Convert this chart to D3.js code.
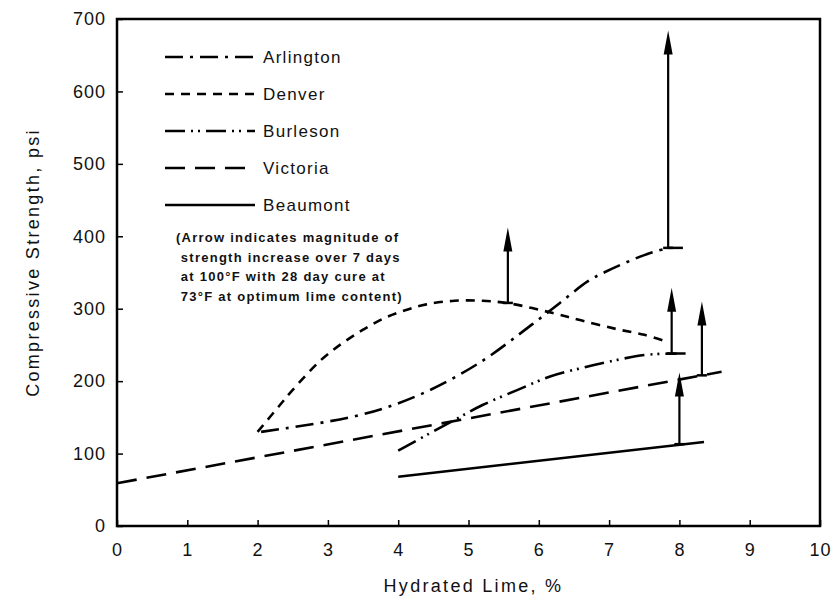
<!DOCTYPE html>
<html>
<head>
<meta charset="utf-8">
<title>Compressive strength vs hydrated lime</title>
<script src="https://d3js.org/d3.v7.min.js"></script>
<style>
  body { margin: 0; background: #fff; }
  svg { display: block; font-family: "Liberation Sans", Arial, sans-serif; }
  .tick-lbl { font-size: 18px; letter-spacing: 1px; fill: #111; }
  .title { font-size: 18px; letter-spacing: 2.3px; fill: #111; }
  .leg { font-size: 17px; letter-spacing: 1.3px; fill: #111; }
  .note { font-size: 13px; font-weight: bold; letter-spacing: 1.25px; fill: #111; }
</style>
</head>
<body>
<div id="chart"></div>
<script>
// ---- data ----
var xTicks = [0, 1, 2, 3, 4, 5, 6, 7, 8, 9, 10];
var yTicks = [0, 100, 200, 300, 400, 500, 600, 700];

var seriesNames = ["Arlington", "Denver", "Burleson", "Victoria", "Beaumont"];
var seriesDash = ["18,7,3,7", "9,7", "20,6,2,5,2,6", "20,10", null];

var arlington = [[2.05,130],[3.45,153],[4.3,181],[5.15,225],[5.9,278],[6.3,308],[6.7,338],[6.95,351],[7.5,374],[7.84,384]];
var denver = [[2,130],[2.3,165],[2.5,188],[2.9,229],[3.2,252],[3.5,271],[3.8,287],[4.1,298],[4.4,306],[4.8,311],[5.2,311],[5.6,307],[6.2,294],[6.6,284],[7.1,272],[7.5,264],[7.8,255]];
var burleson = [[4,104],[4.45,128],[4.85,149],[5.2,167],[5.7,188],[6.15,206],[6.6,218],[7,227],[7.5,236],[7.85,238],[8.15,238]];
var victoria = [[0,59],[8.6,213]];
var beaumont = [[4,68],[8.35,116]];
var seriesData = [arlington, denver, burleson, victoria, beaumont];

// arrows: [lime %, base strength, tip strength]
var arrows = [[5.56,308,412],[7.84,384,684],[7.89,238,329],[8.32,208,310],[8.0,113,212]];

var noteLines = ["(Arrow indicates magnitude of",
                 " strength increase over 7 days",
                 " at 100\u00B0F with 28 day cure at",
                 " 73\u00B0F at optimum lime content)"];

// ---- layout ----
var W = 833, H = 600;
var mLeft = 117, mRight = 820, mTop = 19, mBottom = 526;

var x = d3.scaleLinear().domain([0, 10]).range([mLeft, mRight]);
var y = d3.scaleLinear().domain([0, 700]).range([mBottom, mTop]);

var svg = d3.select("#chart").append("svg").attr("width", W).attr("height", H);

// frame
svg.append("rect")
  .attr("x", mLeft).attr("y", mTop)
  .attr("width", mRight - mLeft).attr("height", mBottom - mTop)
  .attr("fill", "none").attr("stroke", "#000").attr("stroke-width", 2.5);

// axes with inward ticks
var xAxis = svg.append("g").attr("transform", "translate(0," + mBottom + ")")
  .call(d3.axisBottom(x).tickValues(xTicks).tickSizeInner(-6).tickSizeOuter(0).tickPadding(14));
var yAxis = svg.append("g").attr("transform", "translate(" + mLeft + ",0)")
  .call(d3.axisLeft(y).tickValues(yTicks).tickSizeInner(-6).tickSizeOuter(0).tickPadding(11));
[xAxis, yAxis].forEach(function (g) {
  g.select(".domain").remove();
  g.selectAll(".tick line").attr("stroke", "#000").attr("stroke-width", 1.5);
  g.selectAll(".tick text").attr("class", "tick-lbl").attr("font-size", null).attr("font-family", null);
});
xAxis.selectAll(".tick text").attr("dy", "0.9em");

// axis titles
svg.append("text").attr("class", "title")
  .attr("x", (mLeft + mRight) / 2 + 5).attr("y", 592)
  .attr("text-anchor", "middle").text("Hydrated Lime, %");
svg.append("text").attr("class", "title")
  .attr("transform", "translate(39," + ((mTop + mBottom) / 2 - 10) + ") rotate(-90)")
  .attr("text-anchor", "middle").text("Compressive Strength, psi");

// curves
var line = d3.line().x(function (d) { return x(d[0]); }).y(function (d) { return y(d[1]); })
  .curve(d3.curveCatmullRom.alpha(0.5));

seriesData.forEach(function (s, i) {
  svg.append("path")
    .attr("d", line(s))
    .attr("fill", "none").attr("stroke", "#000").attr("stroke-width", 2.6)
    .attr("stroke-dasharray", seriesDash[i]);
});

// arrows
arrows.forEach(function (a) {
  var xp = x(a[0]), yb = y(a[1]), yt = y(a[2]);
  svg.append("line").attr("x1", xp - 5).attr("x2", xp + 5).attr("y1", yb).attr("y2", yb)
    .attr("stroke", "#000").attr("stroke-width", 2.5);
  svg.append("line").attr("x1", xp).attr("x2", xp).attr("y1", yb).attr("y2", yt + 18)
    .attr("stroke", "#000").attr("stroke-width", 2.2);
  svg.append("path")
    .attr("d", "M" + xp + "," + yt + "L" + (xp + 4.5) + "," + (yt + 24) + "L" + (xp - 4.5) + "," + (yt + 24) + "Z")
    .attr("fill", "#000");
});
// step at base of the big Arlington arrow
svg.append("line")
  .attr("x1", x(7.84)).attr("x2", x(8.05)).attr("y1", y(384)).attr("y2", y(384))
  .attr("stroke", "#000").attr("stroke-width", 2.5);

// legend
var leg = svg.append("g");
seriesNames.forEach(function (n, i) {
  var yy = 57 + i * 37;
  leg.append("line").attr("x1", 165).attr("x2", 255).attr("y1", yy).attr("y2", yy)
    .attr("stroke", "#000").attr("stroke-width", 2.6).attr("stroke-dasharray", seriesDash[i]);
  leg.append("text").attr("class", "leg").attr("x", 263).attr("y", yy + 6).text(n);
});

// note
noteLines.forEach(function (t, i) {
  svg.append("text").attr("class", "note").attr("x", 176).attr("y", 242 + i * 19.7)
    .attr("xml:space", "preserve").style("white-space", "pre").text(t);
});
</script>
</body>
</html>
